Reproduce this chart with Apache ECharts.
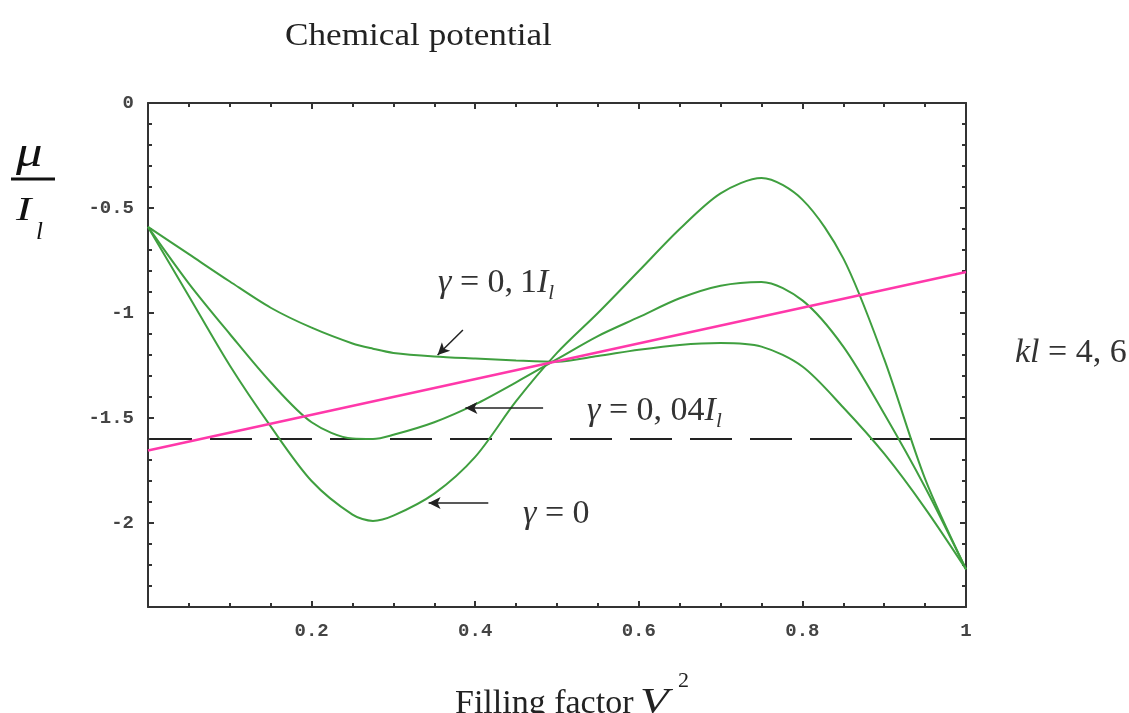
<!DOCTYPE html>
<html>
<head>
<meta charset="utf-8">
<script src="https://cdn.jsdelivr.net/npm/echarts@6/dist/echarts.min.js"></script>
<style>
html,body{margin:0;padding:0;background:#fff;}
#c{width:1129px;height:713px;}
</style>
</head>
<body>
<div id="c"></div>
<script>
// ---- data ----
const xValues  = [0, 0.05, 0.1, 0.15, 0.2, 0.25, 0.275, 0.3, 0.35, 0.4, 0.45, 0.5, 0.55, 0.6, 0.65, 0.7, 0.75, 0.8, 0.85, 0.9, 0.95, 1];
const gamma0   = [-0.59, -0.92, -1.25, -1.54, -1.80, -1.96, -1.99, -1.965, -1.86, -1.685, -1.42, -1.19, -1.00, -0.80, -0.60, -0.43, -0.357, -0.46, -0.74, -1.22, -1.79, -2.22];
const gamma004 = [-0.59, -0.86, -1.10, -1.33, -1.52, -1.598, -1.60, -1.58, -1.52, -1.435, -1.33, -1.22, -1.11, -1.02, -0.93, -0.87, -0.852, -0.94, -1.16, -1.48, -1.83, -2.22];
const gamma01  = [-0.59, -0.72, -0.85, -0.975, -1.07, -1.145, -1.17, -1.19, -1.207, -1.217, -1.226, -1.232, -1.205, -1.175, -1.152, -1.143, -1.16, -1.255, -1.45, -1.67, -1.93, -2.22];
const pinkX = [0, 1];
const pinkY = [-1.655, -0.805];
const dashedLevel = -1.6;
const yTickLabels = [0, -0.5, -1, -1.5, -2];
const yMinorTicks = [-0.1,-0.2,-0.3,-0.4,-0.6,-0.7,-0.8,-0.9,-1.1,-1.2,-1.3,-1.4,-1.6,-1.7,-1.8,-1.9,-2.1,-2.2,-2.3];

const zip = (xs, ys) => xs.map((x, i) => [x, ys[i]]);

const GREEN = '#3f9f3f';
const PINK = '#ff38aa';
const FRAME = '#333';
const monoLabel = {fontFamily: 'Liberation Mono', fontWeight: 'bold', fontSize: 19, color: '#444'};

const chart = echarts.init(document.getElementById('c'), null, {renderer: 'canvas'});

function xAx(pos, showLabels) {
  return {
    type: 'value', position: pos, min: 0, max: 1, interval: 0.2,
    axisLine: {show: true, onZero: false, lineStyle: {color: FRAME, width: 2}},
    axisTick: {show: true, inside: true, length: 6, lineStyle: {color: FRAME, width: 2}},
    minorTick: {show: true, splitNumber: 4, length: 4, lineStyle: {color: FRAME, width: 2}},
    splitLine: {show: false}, minorSplitLine: {show: false},
    axisLabel: Object.assign({show: showLabels, showMinLabel: false, margin: 15,
      formatter: v => String(v)}, monoLabel)
  };
}
function yAx(pos, values, len, showLabels, showLine) {
  return {
    type: 'value', position: pos, min: -2.4, max: 0,
    axisLine: {show: showLine, onZero: false, lineStyle: {color: FRAME, width: 2}},
    axisTick: {show: true, inside: true, length: len, customValues: values, lineStyle: {color: FRAME, width: 2}},
    splitLine: {show: false},
    axisLabel: Object.assign({show: showLabels, margin: 14, customValues: values,
      formatter: v => String(v)}, monoLabel)
  };
}

const serif = 'Liberation Serif';
const mathRich = {
  i: {fontStyle: 'italic', fontSize: 34, fontFamily: serif, lineHeight: 42},
  s: {fontStyle: 'italic', fontSize: 21, fontFamily: serif, lineHeight: 20, verticalAlign: 'bottom'}
};

const option = {
  backgroundColor: '#fff',
  animation: false,
  grid: {left: 148, right: 163, top: 103, bottom: 106, containLabel: false},
  xAxis: [xAx('bottom', true), xAx('top', false)],
  yAxis: [
    yAx('left', yTickLabels, 6, true, true),
    yAx('left', yMinorTicks, 4, false, false),
    yAx('right', yTickLabels, 6, false, true),
    yAx('right', yMinorTicks, 4, false, false)
  ],
  series: [
    {type: 'line', name: 'dashed', data: zip(pinkX, pinkX.map(() => dashedLevel)), showSymbol: false, silent: true,
     lineStyle: {color: '#222', width: 2, type: [42, 18], dashOffset: -2}},
    {type: 'line', name: 'gamma0', data: zip(xValues, gamma0), smooth: 0.3, showSymbol: false, silent: true,
     lineStyle: {color: GREEN, width: 2}},
    {type: 'line', name: 'gamma004', data: zip(xValues, gamma004), smooth: 0.3, showSymbol: false, silent: true,
     lineStyle: {color: GREEN, width: 2}},
    {type: 'line', name: 'gamma01', data: zip(xValues, gamma01), smooth: 0.3, showSymbol: false, silent: true,
     lineStyle: {color: GREEN, width: 2}},
    {type: 'line', name: 'pink', data: zip(pinkX, pinkY), showSymbol: false, silent: true,
     lineStyle: {color: PINK, width: 2.5}},
    {type: 'line', name: 'arrows', data: [], silent: true,
     markLine: {
       silent: true, symbol: ['none', 'arrow'], symbolSize: [9, 12],
       label: {show: false},
       lineStyle: {color: '#222', width: 1.5, type: 'solid'},
       data: [
         [{coord: [0.385, -1.081]}, {coord: [0.354, -1.2]}],
         [{coord: [0.483, -1.452]}, {coord: [0.388, -1.452]}],
         [{coord: [0.416, -1.905]}, {coord: [0.343, -1.905]}]
       ]
     }}
  ],
  graphic: [
    {type: 'text', left: 285, top: 21, style: {text: 'Chemical potential', font: '32px "Liberation Serif"', fill: '#222'}, scaleX: 1.1},
    {type: 'text', x: 16, y: 132, scaleX: 1.2, style: {text: 'μ', font: 'italic 44px "Liberation Serif"', fill: '#111'}},
    {type: 'line', shape: {x1: 11, y1: 179, x2: 55, y2: 179}, style: {stroke: '#111', lineWidth: 3}},
    {type: 'text', x: 16, y: 195, scaleX: 1.4, style: {text: 'I', font: 'italic 33px "Liberation Serif"', fill: '#111'}},
    {type: 'text', x: 36, y: 220, style: {text: 'l', font: 'italic 25px "Liberation Serif"', fill: '#111'}},
    {type: 'text', x: 438, y: 262, style: {
      text: '{i|γ} = 0,\u20091{i|I}{s|l}', font: '34px "Liberation Serif"', fill: '#333', rich: mathRich}},
    {type: 'text', x: 587, y: 390, style: {
      text: '{i|γ} = 0, 04{i|I}{s|l}', font: '34px "Liberation Serif"', fill: '#333', rich: mathRich}},
    {type: 'text', x: 523, y: 493, style: {
      text: '{i|γ} = 0', font: '34px "Liberation Serif"', fill: '#333', rich: mathRich}},
    {type: 'text', x: 1015, y: 332, style: {
      text: '{i|kl} = 4, 6', font: '34px "Liberation Serif"', fill: '#333', rich: mathRich}},
    {type: 'text', x: 455, y: 687, style: {text: 'Filling factor', font: '34px "Liberation Serif"', fill: '#222'}},
    {type: 'text', x: 640, y: 686, scaleX: 1.3, style: {text: 'V', font: 'italic 36px "Liberation Serif"', fill: '#222'}},
    {type: 'text', x: 678, y: 670, style: {text: '2', font: '22px "Liberation Serif"', fill: '#222'}}
  ]
};
chart.setOption(option);
</script>
</body>
</html>
